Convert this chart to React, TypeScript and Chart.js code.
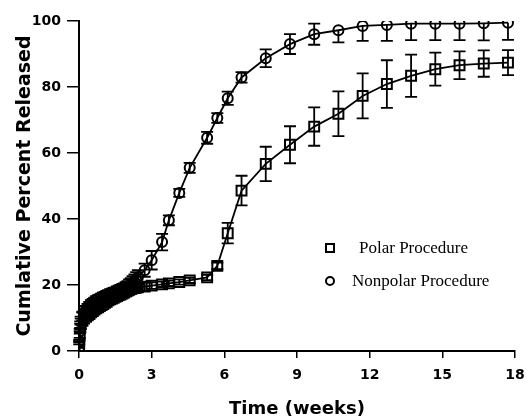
import React, { useEffect, useRef } from "react";
import { Chart, registerables } from "chart.js";

Chart.register(...registerables);

// Time points (weeks)
const timeWeeks = [
  0, 0.01, 0.03, 0.05,
  0.07, 0.14, 0.21, 0.29, 0.36, 0.43, 0.5, 0.57, 0.64, 0.71,
  0.79, 0.86, 0.93, 1.0, 1.07, 1.14, 1.21, 1.29, 1.36, 1.43,
  1.5, 1.57, 1.64, 1.71, 1.79, 1.86, 1.93, 2.0, 2.07, 2.14,
  2.21, 2.29, 2.36, 2.43,
  2.71, 3.0, 3.43, 3.71, 4.14, 4.57, 5.29, 5.71, 6.14, 6.71, 7.71, 8.71, 9.71, 10.71, 11.71, 12.71,
  13.71, 14.71, 15.71, 16.71, 17.71,
];

// Polar procedure (squares)
const polarValues = [
  0, 2.5, 5, 7,
  8.2, 9.6, 10.5, 11.2, 11.8, 12.3, 12.8, 13.2, 13.6, 14,
  14.3, 14.6, 14.9, 15.2, 15.5, 15.8, 16.1, 16.4, 16.6, 16.8,
  17.0, 17.2, 17.4, 17.6, 17.8, 18.0, 18.2, 18.4, 18.6, 18.8,
  19.0, 19.1, 19.2, 19.3,
  19.5, 19.8, 20.2, 20.5, 20.9, 21.4, 22.3, 25.8, 35.7, 48.6, 56.7, 62.5, 68, 71.9, 77.3, 80.9,
  83.4, 85.4, 86.6, 87.1, 87.4,
];
const polarErrors = [
  0, 0.5, 1, 1.3,
  1.6, 2, 2.2, 2.4, 2.5, 2.6, 2.6, 2.6, 2.6, 2.6,
  2.6, 2.5, 2.5, 2.5, 2.4, 2.4, 2.3, 2.3, 2.2, 2.2,
  2.1, 2.1, 2.0, 2.0, 1.9, 1.8, 1.7, 1.6, 1.5, 1.4,
  1.3, 1.3, 1.2, 1.2,
  1.2, 1, 0.8, 0.8, 0.8, 0.8, 0.8, 1, 3.1, 4.5, 5.2, 5.6, 5.8, 6.8, 6.8, 7.2,
  6.4, 5, 4.2, 4, 3.8,
];

// Nonpolar procedure (circles)
const nonpolarValues = [
  0, 3, 6, 8,
  9.2, 10.6, 11.5, 12.2, 12.8, 13.3, 13.8, 14.2, 14.6, 15,
  15.3, 15.6, 15.9, 16.2, 16.4, 16.7, 16.9, 17.1, 17.3, 17.5,
  17.7, 17.9, 18.1, 18.3, 18.5, 18.7, 19.0, 19.3, 19.7, 20.1,
  20.6, 21.1, 21.7, 22.3,
  24.5, 27.5, 33, 39.6, 47.9, 55.5, 64.6, 70.6, 76.6, 82.9, 88.7, 93, 96, 97.2, 98.5, 98.8,
  99.2, 99.2, 99.2, 99.3, 99.5,
];
const nonpolarErrors = [
  0, 0.4, 0.7, 1,
  1.2, 1.3, 1.4, 1.5, 1.5, 1.5, 1.5, 1.5, 1.5, 1.5,
  1.5, 1.5, 1.5, 1.5, 1.5, 1.5, 1.5, 1.6, 1.6, 1.6,
  1.6, 1.7, 1.7, 1.7, 1.8, 1.8, 1.9, 1.9, 2.0, 2.0,
  2.1, 2.1, 2.2, 2.2,
  2, 2.8, 2.5, 1.5, 1.2, 1.5, 1.8, 1.5, 2, 1.6, 2.7, 3, 3.2, 3.7, 4.5, 4.8,
  5, 5, 5, 5.2, 5.2,
];

const xTicks = [0, 3, 6, 9, 12, 15, 18];
const yTicks = [0, 20, 40, 60, 80, 100];

const seriesLabels = ["Polar Procedure", "Nonpolar Procedure"];
const errorSets = [polarErrors, nonpolarErrors];

const errorBarPlugin = {
  id: "errorBars",
  beforeDatasetsDraw(chart: any) {
    const ctx = chart.ctx;
    const xs = chart.scales.x;
    const ys = chart.scales.y;
    ctx.save();
    ctx.strokeStyle = "#000";
    ctx.lineWidth = 1.8;
    chart.data.datasets.forEach((ds: any, di: number) => {
      const errs = errorSets[di];
      ds.data.forEach((p: any, i: number) => {
        const e = errs[i];
        if (!e) return;
        const x = xs.getPixelForValue(p.x);
        const hiVal = p.y + e;
        const yHi = ys.getPixelForValue(Math.min(hiVal, 100));
        const yLo = ys.getPixelForValue(p.y - e);
        const yMid = ys.getPixelForValue(p.y);
        const cap = 6;
        ctx.beginPath();
        if (hiVal <= 100) {
          ctx.moveTo(x, yHi);
          ctx.lineTo(x, yLo);
          ctx.moveTo(x - cap, yHi);
          ctx.lineTo(x + cap, yHi);
        } else {
          ctx.moveTo(x, yMid);
          ctx.lineTo(x, yLo);
        }
        ctx.moveTo(x - cap, yLo);
        ctx.lineTo(x + cap, yLo);
        ctx.stroke();
      });
    });
    ctx.restore();
  },
};

const legendPlugin = {
  id: "customLegend",
  afterDraw(chart: any) {
    const ctx = chart.ctx;
    const a = chart.chartArea;
    const iconX = a.left + 251;
    const y1 = a.top + 227;
    const y2 = a.top + 260;
    ctx.save();
    ctx.strokeStyle = "#000";
    ctx.lineWidth = 2;
    ctx.strokeRect(iconX - 4, y1 - 4, 8, 8);
    ctx.beginPath();
    ctx.arc(iconX, y2, 4, 0, Math.PI * 2);
    ctx.stroke();
    ctx.fillStyle = "#000";
    ctx.font = '17px "Liberation Serif", "Times New Roman", serif';
    ctx.textBaseline = "middle";
    ctx.textAlign = "left";
    ctx.fillText(seriesLabels[0], iconX + 29, y1 + 1);
    ctx.fillText(seriesLabels[1], iconX + 22, y2 + 1);
    ctx.restore();
  },
};

export default function App() {
  const ref = useRef<HTMLCanvasElement | null>(null);

  useEffect(() => {
    if (!ref.current) return;
    const tickFont = { family: '"DejaVu Sans", sans-serif', size: 14, weight: "bold" as const };
    const chart = new Chart(ref.current, {
      type: "line",
      data: {
        datasets: [
          {
            label: seriesLabels[0],
            data: timeWeeks.map((t, i) => ({ x: t, y: polarValues[i] })),
            borderColor: "#000",
            borderWidth: 1.8,
            pointStyle: "rect",
            pointRadius: 7,
            pointBorderWidth: 2,
            pointBorderColor: "#000",
            pointBackgroundColor: "rgba(0,0,0,0)",
            tension: 0,
            fill: false,
          },
          {
            label: seriesLabels[1],
            data: timeWeeks.map((t, i) => ({ x: t, y: nonpolarValues[i] })),
            borderColor: "#000",
            borderWidth: 1.8,
            pointStyle: "circle",
            pointRadius: 5,
            pointBorderWidth: 2,
            pointBorderColor: "#000",
            pointBackgroundColor: "rgba(0,0,0,0)",
            tension: 0,
            fill: false,
          },
        ],
      },
      options: {
        animation: false,
        responsive: true,
        maintainAspectRatio: false,
        layout: { padding: { top: 21, right: 11, left: 0, bottom: 0 } },
        plugins: {
          legend: { display: false },
          tooltip: { enabled: false },
        },
        scales: {
          x: {
            type: "linear",
            min: 0,
            max: 18,
            afterBuildTicks: (s: any) => {
              s.ticks = xTicks.map((v) => ({ value: v }));
            },
            afterFit: (s: any) => {
              s.height = 68;
              s.paddingRight = 0;
              s.paddingLeft = 0;
            },
            ticks: { color: "#000", font: tickFont, padding: 9, maxRotation: 0 },
            grid: { drawOnChartArea: false, drawTicks: true, tickLength: 7, color: "#000", lineWidth: 1.5 },
            border: { display: true, color: "#000", width: 2 },
            title: {
              display: true,
              text: "Time (weeks)",
              color: "#000",
              font: { family: '"DejaVu Sans", sans-serif', size: 18, weight: "bold", lineHeight: 1 },
              padding: { top: 0, bottom: 1 },
            },
          },
          y: {
            type: "linear",
            min: 0,
            max: 100,
            afterBuildTicks: (s: any) => {
              s.ticks = yTicks.map((v) => ({ value: v }));
            },
            afterFit: (s: any) => {
              s.width = 79;
              s.paddingTop = 0;
              s.paddingBottom = 0;
            },
            ticks: { color: "#000", font: tickFont, padding: 6 },
            grid: { drawOnChartArea: false, drawTicks: true, tickLength: 12, color: "#000", lineWidth: 1.5 },
            border: { display: true, color: "#000", width: 2 },
            title: {
              display: true,
              text: "Cumlative Percent Released",
              color: "#000",
              font: { family: '"DejaVu Sans", sans-serif', size: 19, weight: "bold", lineHeight: 1 },
              padding: { top: 16, bottom: 0 },
            },
          },
        },
      },
      plugins: [errorBarPlugin, legendPlugin],
    } as any);
    return () => chart.destroy();
  }, []);

  return (
    <div style={{ position: "fixed", left: 0, top: 0, width: 526, height: 419, background: "#fff" }}>
      <canvas ref={ref} />
    </div>
  );
}
